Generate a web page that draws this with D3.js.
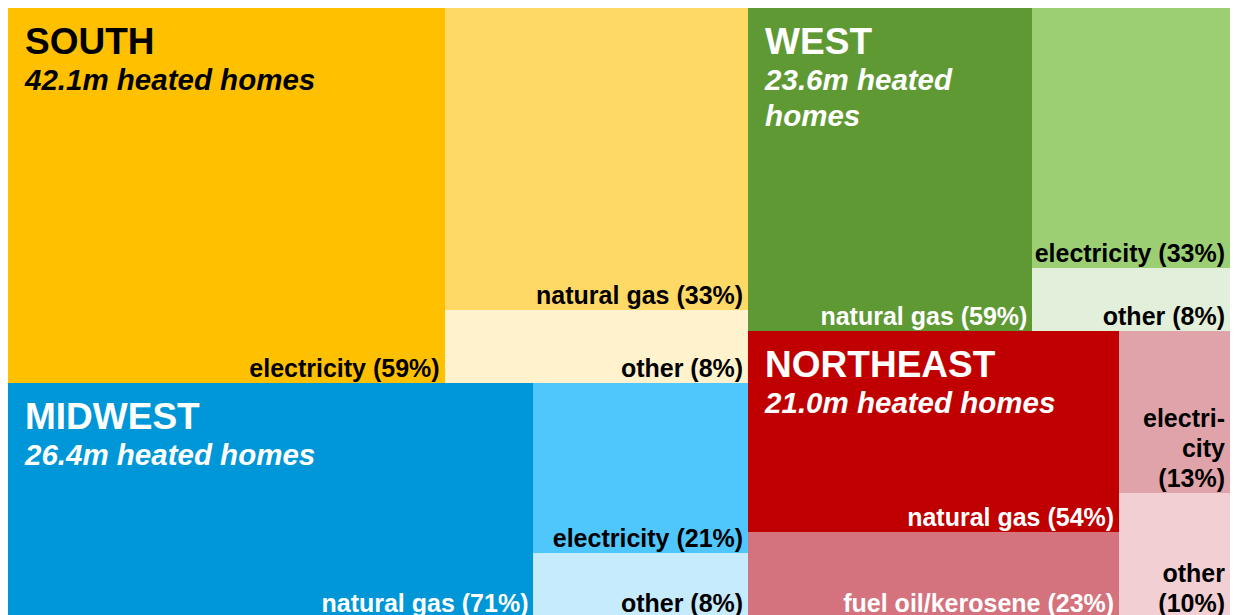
<!DOCTYPE html>
<html>
<head>
<meta charset="utf-8">
<script src="https://cdn.jsdelivr.net/npm/d3@7"></script>
<style>
  body { margin: 0; background: #fff; overflow: hidden; }
  text { font-family: "Liberation Sans", Arial, sans-serif; font-weight: bold; }
</style>
</head>
<body>
<div id="chart"></div>
<script>
// Data

// Regions and heated homes (millions)
const regions = ['SOUTH', 'MIDWEST', 'WEST', 'NORTHEAST'];
const heatedHomes = [42.1, 26.4, 23.6, 21.0];

// Primary heating fuels per region, biggest first (soft hyphen marks where a word may break)
const fuels = [
  ['electri\u00ADcity', 'natural gas', 'other'],
  ['natural gas', 'electri\u00ADcity', 'other'],
  ['natural gas', 'electri\u00ADcity', 'other'],
  ['natural gas', 'fuel oil/kerosene', 'electri\u00ADcity', 'other']
];

// Share of heated homes (%)
const shares = [
  [59, 33, 8],
  [71, 21, 8],
  [59, 33, 8],
  [54, 23, 13, 10]
];


// Layout

// Which regions stack in each column, and how many fuels go in each strip
const columns = [[0, 1], [2, 3]];
const strips = [[1, 2], [1, 2], [1, 2], [2, 2]];

// Colours per region, darkest first
const palettes = [
  ['#ffc000', '#ffd966', '#fff2cc'],
  ['#0097d8', '#4fc7fc', '#c6ebfc'],
  ['#5f9934', '#9ccf74', '#e2efda'],
  ['#c00000', '#d4737d', '#e0a3a9', '#f2cfd3']
];

const width = 1238;
const height = 615;
const margin = { top: 8, left: 8, right: 8, bottom: -3 };
const innerWidth = width - margin.left - margin.right;
const innerHeight = height - margin.top - margin.bottom;

const svg = d3.select('#chart')
  .append('svg')
  .attr('width', width)
  .attr('height', height);

const g = svg.append('g')
  .attr('transform', `translate(${margin.left},${margin.top})`);


// Hierarchy: columns > regions > strips > fuels
const root = d3.hierarchy({
  children: columns.map(col => ({
    children: col.map(r => {
      let k = 0;
      return {
        region: r,
        children: strips[r].map(n => ({
          children: d3.range(n).map(() => {
            const f = k++;
            return { region: r, fuel: f, value: heatedHomes[r] * shares[r][f] / 100 };
          })
        }))
      };
    })
  }))
}).sum(d => d.value || 0);

d3.treemap()
  .tile(d3.treemapSliceDice)
  .size([innerWidth, innerHeight])(root);

const fillOf = d => palettes[d.data.region][d.data.fuel];
const inkOf = c => d3.lab(c).l < 62 ? '#fff' : '#000';


// Text measuring and wrapping
const measure = svg.append('text').attr('visibility', 'hidden');

function textWidth(s, size, italic) {
  measure
    .style('font-size', size + 'px')
    .style('font-style', italic ? 'italic' : 'normal')
    .text(s);
  return measure.node().getComputedTextLength();
}

function wrap(label, maxWidth, size, italic) {
  const clean = s => s.replace(/\u00AD/g, '');
  const fits = s => textWidth(clean(s), size, italic) <= maxWidth;
  const words = [];
  label.split(' ').forEach(w => {
    if (!fits(w) && w.includes('\u00AD')) {
      const parts = w.split('\u00AD');
      parts.forEach((p, i) => words.push(i < parts.length - 1 ? p + '-' : p));
    } else {
      words.push(w);
    }
  });
  const lines = [];
  words.forEach(w => {
    const last = lines[lines.length - 1];
    if (last !== undefined && fits(last + ' ' + w)) lines[lines.length - 1] = last + ' ' + w;
    else lines.push(w);
  });
  return lines.map(clean);
}


// Cells
const leaves = root.leaves();

g.append('g')
  .attr('class', 'cells')
  .selectAll('rect')
  .data(leaves)
  .enter().append('rect')
  .attr('x', d => d.x0)
  .attr('y', d => d.y0)
  .attr('width', d => d.x1 - d.x0)
  .attr('height', d => d.y1 - d.y0)
  .attr('fill', fillOf)
  .attr('shape-rendering', 'crispEdges');


// Fuel labels, bottom right of each cell
const fuelSize = 25;
const fuelLine = 30;

const fuelLabel = g.append('g')
  .attr('class', 'fuel-labels')
  .selectAll('text')
  .data(leaves)
  .enter().append('text')
  .attr('text-anchor', 'end')
  .style('font-size', fuelSize + 'px')
  .attr('fill', d => inkOf(fillOf(d)));

fuelLabel.each(function(d) {
  const label = `${fuels[d.data.region][d.data.fuel]} (${shares[d.data.region][d.data.fuel]}%)`;
  const lines = wrap(label, d.x1 - d.x0 - 4, fuelSize, false);
  d3.select(this).selectAll('tspan')
    .data(lines)
    .enter().append('tspan')
    .attr('x', d.x1 - 5)
    .attr('y', (s, i) => d.y1 - 6 - (lines.length - 1 - i) * fuelLine)
    .text(s => s);
});


// Region labels, top left of the main fuel cell
const regionNodes = root.descendants().filter(d => d.depth === 2);

const regionLabel = g.append('g')
  .attr('class', 'region-labels')
  .selectAll('text')
  .data(regionNodes)
  .enter().append('text')
  .attr('fill', d => inkOf(palettes[d.data.region][0]));

regionLabel.each(function(d) {
  const cell = d.leaves()[0];
  const x = cell.x0 + 17;
  const text = d3.select(this);
  text.append('tspan')
    .attr('x', x)
    .attr('y', cell.y0 + 46)
    .style('font-size', '37px')
    .text(regions[d.data.region]);
  const sub = wrap(`${heatedHomes[d.data.region].toFixed(1)}m heated homes`, cell.x1 - cell.x0 - 30, 29.5, true);
  sub.forEach((s, i) => {
    text.append('tspan')
      .attr('x', x)
      .attr('y', cell.y0 + 82 + i * 36)
      .style('font-size', '29.5px')
      .style('font-style', 'italic')
      .text(s);
  });
});

measure.remove();
</script>
</body>
</html>
